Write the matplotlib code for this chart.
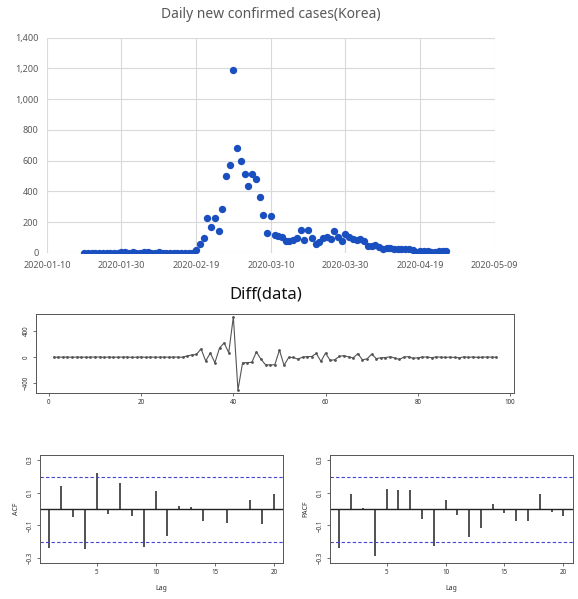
import matplotlib
matplotlib.use("Agg")
import matplotlib.pyplot as plt
import matplotlib.dates as mdates
import matplotlib.ticker as mticker
import numpy as np
import pandas as pd

# daily new confirmed cases, Korea, 2020-01-20 .. 2020-04-26
start_date = "2020-01-20"
daily_cases = [1, 0, 0, 0, 1, 0, 1, 1, 0, 0, 2, 4, 1, 3, 0, 1, 2, 4, 1, 0,
               3, 0, 1, 0, 0, 0, 0, 1, 1, 1,
               20, 54, 96, 224, 165, 228, 143, 283, 502, 570, 1189,
               685, 598, 515, 435, 515, 483, 365, 246, 130, 239,
               113, 109, 104, 74, 74, 83, 93, 150, 85, 148, 98, 59, 72, 96, 100, 89,
               143, 102, 76, 122, 100, 91, 85, 91, 78, 44, 44, 52, 35, 26, 28, 30,
               22, 26, 26, 22, 22, 18, 8, 13, 9, 13, 8, 8, 10, 10, 10]
dates = pd.date_range(start_date, periods=len(daily_cases), freq="D")

# acf / pacf of the differenced series, lags 1..20
lags = list(range(1, 21))
acf_vals = [-0.235, 0.14, -0.048, -0.244, 0.219, -0.031, 0.163, -0.042, -0.229, 0.11,
            -0.167, 0.019, 0.015, -0.073, -0.003, -0.083, -0.003, 0.058, -0.088, 0.094]
pacf_vals = [-0.235, 0.09, 0.004, -0.285, 0.125, 0.119, 0.117, -0.058, -0.225, 0.058,
             -0.035, -0.173, -0.115, 0.031, -0.025, -0.073, -0.073, 0.09, -0.017, -0.042]

diff_data = np.diff(daily_cases)
diff_idx = np.arange(1, len(diff_data) + 1)
conf = 1.96 / np.sqrt(len(diff_data))

fig = plt.figure(figsize=(5.78, 5.99), dpi=100)
plt.rcParams['font.family'] = ['Noto Sans', 'DejaVu Sans']

# ---- top: excel style scatter
ax = fig.add_axes([0.081, 0.578, 0.775, 0.359])
ax.scatter(dates, daily_cases, s=28, color="#1a4fbf", zorder=3, linewidths=0)
ax.set_xlim(pd.Timestamp("2020-01-10"), pd.Timestamp("2020-05-09"))
ax.set_ylim(0, 1400)
ax.xaxis.set_major_locator(mticker.FixedLocator(
    mdates.date2num(pd.date_range("2020-01-10", "2020-05-09", freq="20D"))))
ax.xaxis.set_major_formatter(mdates.DateFormatter("%Y-%m-%d"))
ax.yaxis.set_major_locator(mticker.MultipleLocator(200))
ax.yaxis.set_major_formatter(mticker.StrMethodFormatter("{x:,.0f}"))
ax.grid(True, color="#d9d9d9", linewidth=0.8)
ax.set_axisbelow(True)
for s in ax.spines.values():
    s.set_visible(False)
ax.tick_params(length=0, labelsize=6.5, colors="#595959", pad=6)
fig.text(0.468, 0.975, "Daily new confirmed cases(Korea)", ha="center", va="center",
         fontsize=10, color="#595959")

# ---- middle: diff(data)
ax2 = fig.add_axes([0.062, 0.344, 0.827, 0.132])
ax2.plot(diff_idx, diff_data, color="#555555", linewidth=0.8, marker="o", markersize=1.0)
ax2.set_xlim(1 - 0.04 * 96, 97 + 0.04 * 96)
rng = diff_data.max() - diff_data.min()
ax2.set_ylim(diff_data.min() - 0.04 * rng, diff_data.max() + 0.04 * rng)
ax2.set_xticks([0, 20, 40, 60, 80, 100])
ax2.set_yticks([-400, 0, 400])
ax2.tick_params(labelsize=4.5, length=2.5, width=0.5, colors="#333333", pad=2)
for lab in ax2.get_yticklabels():
    lab.set_rotation(90)
    lab.set_va("center")
for s in ax2.spines.values():
    s.set_linewidth(0.7)
    s.set_color("#555555")
fig.text(0.46, 0.508, "Diff(data)", ha="center", va="center", fontsize=12, color="#111111")


def corr_plot(axc, vals, ylab):
    axc.vlines(lags, 0, vals, color="#222222", linewidth=1.1)
    axc.axhline(0, color="#222222", linewidth=1.0)
    axc.axhline(conf, color="#4444cc", linestyle=(0, (3, 2)), linewidth=0.8)
    axc.axhline(-conf, color="#4444cc", linestyle=(0, (3, 2)), linewidth=0.8)
    axc.set_xlim(0.2, 20.8)
    axc.set_ylim(-0.33, 0.33)
    axc.set_xticks([5, 10, 15, 20])
    axc.set_yticks([-0.3, -0.1, 0.1, 0.3])
    axc.tick_params(labelsize=4.5, length=2.5, width=0.5, colors="#333333", pad=2)
    for lab in axc.get_yticklabels():
        lab.set_rotation(90)
        lab.set_va("center")
    for s in axc.spines.values():
        s.set_linewidth(0.7)
        s.set_color("#555555")
    axc.set_xlabel("Lag", fontsize=5, color="#333333", labelpad=6)
    axc.set_ylabel(ylab, fontsize=5, color="#333333", labelpad=5)


ax3 = fig.add_axes([0.069, 0.060, 0.421, 0.180])
corr_plot(ax3, acf_vals, "ACF")
ax4 = fig.add_axes([0.571, 0.060, 0.420, 0.180])
corr_plot(ax4, pacf_vals, "PACF")

fig.savefig("out.png", dpi=100, facecolor="white")
